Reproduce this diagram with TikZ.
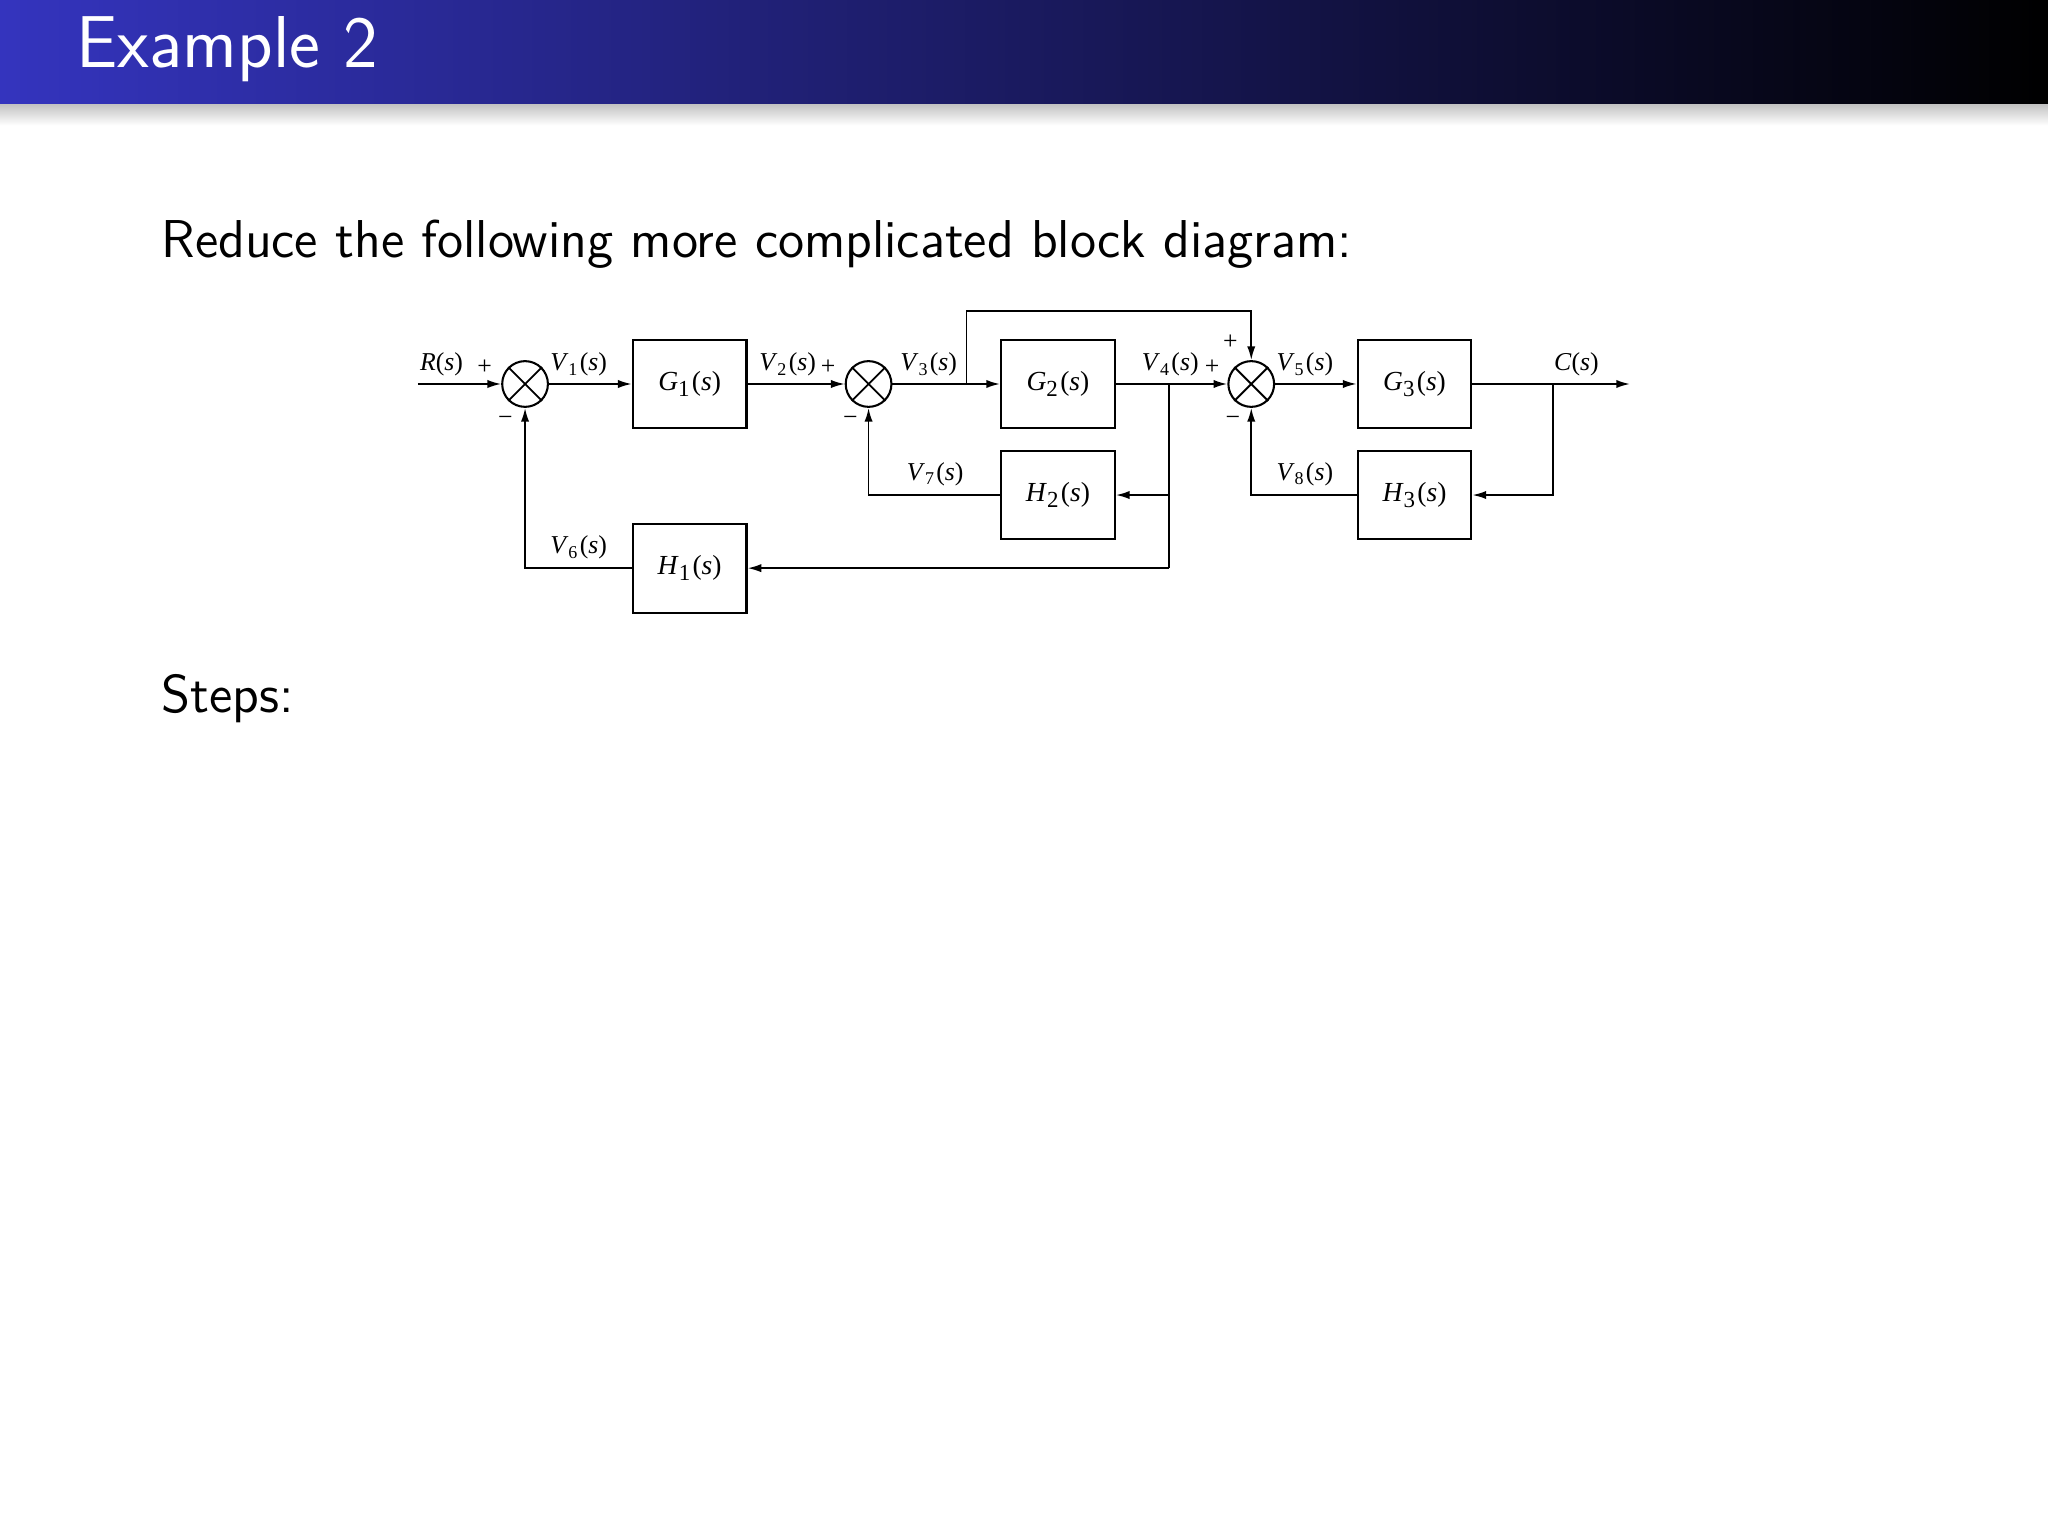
\documentclass[tikz,border=0pt]{standalone}
\usepackage{fontspec}
\newfontfamily\tms{Liberation Serif}
\usetikzlibrary{arrows.meta,calc}
\newcommand{\vv}[2]{{\tms\textit{#1}\textsubscript{#2}(\textit{s})}}
\newcommand{\vn}[1]{{\tms\textit{#1}(\textit{s})}}
\begin{document}
\begin{tikzpicture}[x=0.01cm,y=-0.01cm,
  blk/.style={draw,line width=0.45pt,minimum width=0.87cm,minimum height=0.68cm,inner sep=0pt,font=\fontsize{6}{7}\selectfont},
  sj/.style={draw,circle,line width=0.45pt,minimum size=0.35cm,inner sep=0pt},
  lb/.style={font=\fontsize{5.6}{7}\selectfont,inner sep=0pt},
  ln/.style={line width=0.4pt},
  ar/.style={line width=0.4pt,-{Latex[length=3pt,width=1.8pt]}}]
\useasboundingbox (0,0) rectangle (1568,1176);
\fill[white] (0,0) rectangle (1568,1176);
% title bar
\shade[top color=black!25,bottom color=white] (0,79) rectangle (1568,96);
\shade[left color={rgb,255:red,52;green,52;blue,190},right color=black] (0,0) rectangle (1568,79);
\node[anchor=west,text=white,font=\sffamily\fontsize{16}{18}\selectfont,inner sep=0pt] (title) at (58,38) {Example 2};
\node[anchor=west,font=\sffamily\fontsize{11.6}{14}\selectfont,inner sep=0pt] (txt) at (123,187) {Reduce the following more complicated block diagram:};
\node[anchor=west,font=\sffamily\fontsize{11.6}{14}\selectfont,inner sep=0pt] (steps) at (123,535) {Steps:};
% blocks
\node[sj] (s1) at (402,294) {};
\node[sj] (s2) at (665,294) {};
\node[sj] (s3) at (958,294) {};
\foreach \s in {s1,s2,s3}{\draw[ln] (\s.north west)--(\s.south east) (\s.north east)--(\s.south west);}
\node[blk] (g1) at (528,294) {\vv{G}{1}};
\node[blk] (g2) at (810,294) {\vv{G}{2}};
\node[blk] (g3) at (1083,294) {\vv{G}{3}};
\node[blk] (h2) at (810,379) {\vv{H}{2}};
\node[blk] (h3) at (1083,379) {\vv{H}{3}};
\node[blk] (h1) at (528,435) {\vv{H}{1}};
\coordinate (rin) at (320,294);
\coordinate (cout) at (1248,294);
\coordinate (b3) at (740,294);
\coordinate (b4) at (895,294);
\coordinate (bc) at (1189,294);
% connectors
\draw[ar] (rin) -- (s1.west);
\draw[ar] (s1.east) -- (g1.west);
\draw[ar] (g1.east) -- (s2.west);
\draw[ar] (s2.east) -- (g2.west);
\draw[ar] (g2.east) -- (s3.west);
\draw[ar] (s3.east) -- (g3.west);
\draw[ar] (g3.east) -- (cout);
\draw[ar] (b3) -- (740,238) -- (958,238) -- (s3.north);
\draw[ln] (b4) -- (895,435);
\draw[ar] (895,379) -- (h2.east);
\draw[ar] (895,435) -- (h1.east);
\draw[ar] (bc) |- (h3.east);
\draw[ar] (h3.west) -| (s3.south);
\draw[ar] (h2.west) -| (s2.south);
\draw[ar] (h1.west) -| (s1.south);
% labels
\node[lb] (lR) at (338,279) {\vn{R}};
\node[lb] (p1) at (371,281) {\tms +};
\node[lb] (m1) at (387,322) {\tms −};
\node[lb] (l1) at (443,279) {\vv{V}{1}};
\node[lb] (l2) at (603,279) {\vv{V}{2}};
\node[lb] (p2) at (634,281) {\tms +};
\node[lb] (m2) at (651,322) {\tms −};
\node[lb] (l3) at (711,279) {\vv{V}{3}};
\node[lb] (l4) at (896,279) {\vv{V}{4}};
\node[lb] (p3) at (928,281) {\tms +};
\node[lb] (p4) at (942,262) {\tms +};
\node[lb] (m3) at (944,322) {\tms −};
\node[lb] (l5) at (999,279) {\vv{V}{5}};
\node[lb] (lC) at (1207,279) {\vn{C}};
\node[lb] (l7) at (716,363) {\vv{V}{7}};
\node[lb] (l8) at (999,363) {\vv{V}{8}};
\node[lb] (l6) at (443,419) {\vv{V}{6}};
\end{tikzpicture}
\end{document}
